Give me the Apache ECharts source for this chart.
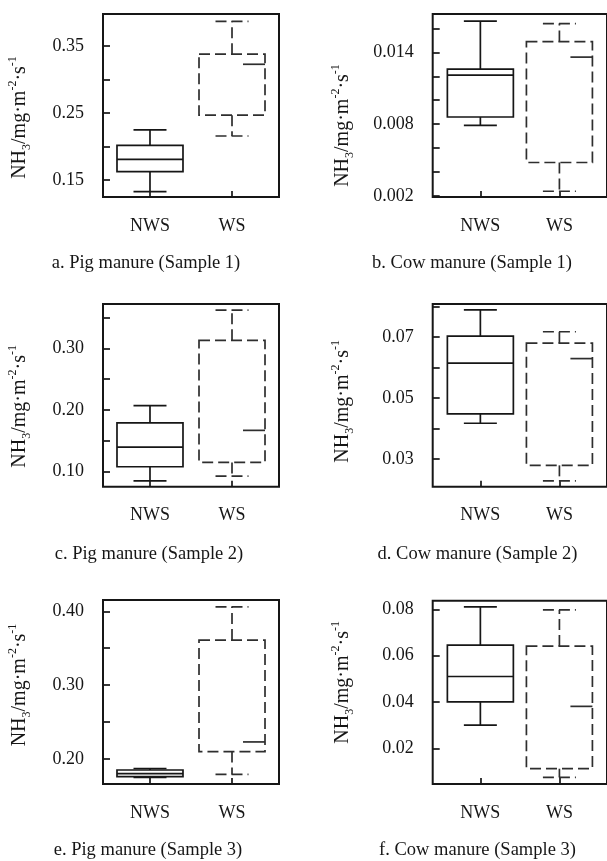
<!DOCTYPE html>
<html><head><meta charset="utf-8">
<script src="https://cdn.jsdelivr.net/npm/echarts@6/dist/echarts.min.js"></script>
<style>html,body{margin:0;padding:0;background:#fff}#c{width:607px;height:861px}</style>
</head><body><div id="c"></div>
<script>
// ---- data ----
const categories = ['NWS', 'WS'];
const captions = [
  'a. Pig manure (Sample 1)', 'b. Cow manure (Sample 1)',
  'c. Pig manure (Sample 2)', 'd. Cow manure (Sample 2)',
  'e. Pig manure (Sample 3)', 'f. Cow manure (Sample 3)'
];
const yTitle = 'NH{sub|3}/mg·m{sup|-2}·s{sup|-1}';
// [min, Q1, median, Q3, max]
const nwsA = [0.133, 0.163, 0.181, 0.202, 0.225];
const wsA  = [0.216, 0.247, 0.323, 0.338, 0.387];
const nwsB = [0.0079, 0.0086, 0.0121, 0.0126, 0.0166];
const wsB  = [0.0024, 0.0048, 0.0136, 0.0149, 0.0164];
const nwsC = [0.085, 0.108, 0.140, 0.179, 0.207];
const wsC  = [0.093, 0.115, 0.167, 0.313, 0.362];
const nwsD = [0.0418, 0.0449, 0.0615, 0.0704, 0.0790];
const wsD  = [0.0229, 0.0280, 0.0630, 0.0681, 0.0718];
const nwsE = [0.175, 0.176, 0.180, 0.185, 0.187];
const wsE  = [0.179, 0.210, 0.223, 0.361, 0.406];
const nwsF = [0.030, 0.040, 0.051, 0.0645, 0.081];
const wsF  = [0.0075, 0.0112, 0.0381, 0.0641, 0.0797];
// axis ticks / labels
const ticksA = [0.15, 0.20, 0.25, 0.30, 0.35];
const labelsA = [0.15, 0.25, 0.35];
const ticksB = [0.002, 0.004, 0.006, 0.008, 0.010, 0.012, 0.014, 0.016];
const labelsB = [0.002, 0.008, 0.014];
const ticksC = [0.10, 0.15, 0.20, 0.25, 0.30, 0.35];
const labelsC = [0.10, 0.20, 0.30];
const ticksD = [0.03, 0.04, 0.05, 0.06, 0.07, 0.08];
const labelsD = [0.03, 0.05, 0.07];
const ticksE = [0.20, 0.25, 0.30, 0.35, 0.40];
const labelsE = [0.20, 0.30, 0.40];
const ticksF = [0.02, 0.04, 0.06, 0.08];
const labelsF = [0.02, 0.04, 0.06, 0.08];
const yRangeA = [0.125, 0.398];
const yRangeB = [0.00192, 0.0172];
const yRangeC = [0.0757, 0.3718];
const yRangeD = [0.021, 0.0809];
const yRangeE = [0.166, 0.4153];
const yRangeF = [0.0046, 0.0837];
const decimals = [2, 3, 2, 2, 2, 2];

// ---- layout / style ----
const INK = '#161616';
const DASH_INK = '#2e2e2e';
const FONT = 'Liberation Serif';
const DASH = [11, 5];
const BOX_W = 66;
const LW = 1.7;
const L = [
  {grid:{left:103, top:14, width:176, height:183}, x:[-0.573,1.573], gap:70, shift:12, cap:[146,263]},
  {grid:{left:432.7, top:14, width:179.3, height:183}, x:[-0.603,1.602], gap:77, shift:20, cap:[472,263]},
  {grid:{left:103, top:304, width:176, height:182.7}, x:[-0.573,1.573], gap:70, shift:11, cap:[149,554]},
  {grid:{left:432.7, top:304, width:179.3, height:182.7}, x:[-0.603,1.602], gap:77, shift:6, cap:[477.5,554]},
  {grid:{left:103, top:600, width:176, height:184}, x:[-0.573,1.573], gap:70, shift:-7, cap:[148,850]},
  {grid:{left:432.7, top:600.7, width:179.3, height:183.3}, x:[-0.603,1.602], gap:77, shift:-10, cap:[477.5,850]}
];
const panels = [
  {nws:nwsA, ws:wsA, ticks:ticksA, labels:labelsA, yr:yRangeA},
  {nws:nwsB, ws:wsB, ticks:ticksB, labels:labelsB, yr:yRangeB},
  {nws:nwsC, ws:wsC, ticks:ticksC, labels:labelsC, yr:yRangeC},
  {nws:nwsD, ws:wsD, ticks:ticksD, labels:labelsD, yr:yRangeD},
  {nws:nwsE, ws:wsE, ticks:ticksE, labels:labelsE, yr:yRangeE},
  {nws:nwsF, ws:wsF, ticks:ticksF, labels:labelsF, yr:yRangeF}
];

function renderBox(params, api) {
  const xi = api.value(0);
  const pts = [1, 2, 3, 4, 5].map(d => api.coord([xi, api.value(d)]));
  const cx = pts[0][0];
  const yMin = pts[0][1], yQ1 = pts[1][1], yMed = pts[2][1], yQ3 = pts[3][1], yMax = pts[4][1];
  const hw = BOX_W / 2, cw = hw / 2;
  const dashed = Math.round(xi) === 1;
  const st = extra => Object.assign({stroke: dashed ? DASH_INK : INK, lineWidth: LW, fill: null},
    dashed ? {lineDash: DASH} : {}, extra || {});
  return {
    type: 'group',
    children: [
      {type:'rect', shape:{x:cx - hw, y:yQ3, width:BOX_W, height:yQ1 - yQ3}, style:st({fill:'rgba(0,0,0,0)'})},
      {type:'line', shape:{x1:cx + hw, y1:yMed, x2:cx - hw, y2:yMed}, style:dashed ? st({lineDash:[22, 200]}) : st()},
      {type:'line', shape:{x1:cx, y1:yQ3, x2:cx, y2:yMax}, style:st()},
      {type:'line', shape:{x1:cx, y1:yQ1, x2:cx, y2:yMin}, style:st()},
      {type:'line', shape:{x1:cx - cw, y1:yMax, x2:cx + cw, y2:yMax}, style:st()},
      {type:'line', shape:{x1:cx - cw, y1:yMin, x2:cx + cw, y2:yMin}, style:st()}
    ]
  };
}

const grid = [], xAxis = [], yAxis = [], series = [], graphic = [];
panels.forEach((p, i) => {
  const l = L[i];
  grid.push(Object.assign({show:true, borderColor:INK, borderWidth:2, backgroundColor:'transparent', containLabel:false}, l.grid));
  xAxis.push({
    type:'value', gridIndex:i, min:l.x[0], max:l.x[1],
    axisLine:{show:false, onZero:false}, splitLine:{show:false},
    axisTick:{show:true, inside:true, length:6, lineStyle:{color:INK, width:LW}, customValues:[0, 1]},
    axisLabel:{show:true, customValues:[0, 1], formatter:v => categories[Math.round(v)], margin:20,
      fontFamily:FONT, fontSize:18, color:INK}
  });
  const pad = l.shift >= 0 ? [0, 2 * l.shift, 0, 0] : [0, 0, 0, -2 * l.shift];
  yAxis.push({
    type:'value', gridIndex:i, min:p.yr[0], max:p.yr[1],
    axisLine:{show:false, onZero:false}, splitLine:{show:false},
    axisTick:{show:true, inside:true, length:7, lineStyle:{color:INK, width:LW}, customValues:p.ticks},
    axisLabel:{show:true, customValues:p.labels, formatter:v => v.toFixed(decimals[i]), margin:19,
      fontFamily:FONT, fontSize:18, color:INK},
    name:yTitle, nameLocation:'middle', nameGap:l.gap,
    nameTextStyle:{fontFamily:FONT, fontSize:20, color:INK, lineHeight:26, padding:pad,
      rich:{
        sub:{fontFamily:FONT, fontSize:12, lineHeight:12, verticalAlign:'bottom', color:INK},
        sup:{fontFamily:FONT, fontSize:12, lineHeight:12, verticalAlign:'top', color:INK}
      }}
  });
  series.push({
    type:'custom', xAxisIndex:i, yAxisIndex:i, silent:true, clip:false,
    encode:{x:0, y:[1, 2, 3, 4, 5]},
    renderItem:renderBox,
    data:[[0].concat(p.nws), [1].concat(p.ws)]
  });
  graphic.push({type:'text', x:l.cap[0], y:l.cap[1], style:{text:captions[i], fontFamily:FONT, fontSize:18.5,
    fill:INK, align:'center', verticalAlign:'middle'}});
});

const chart = echarts.init(document.getElementById('c'), null, {renderer:'canvas'});
chart.setOption({animation:false, backgroundColor:'#fff', grid, xAxis, yAxis, series, graphic, tooltip:{show:false}});
</script></body></html>
